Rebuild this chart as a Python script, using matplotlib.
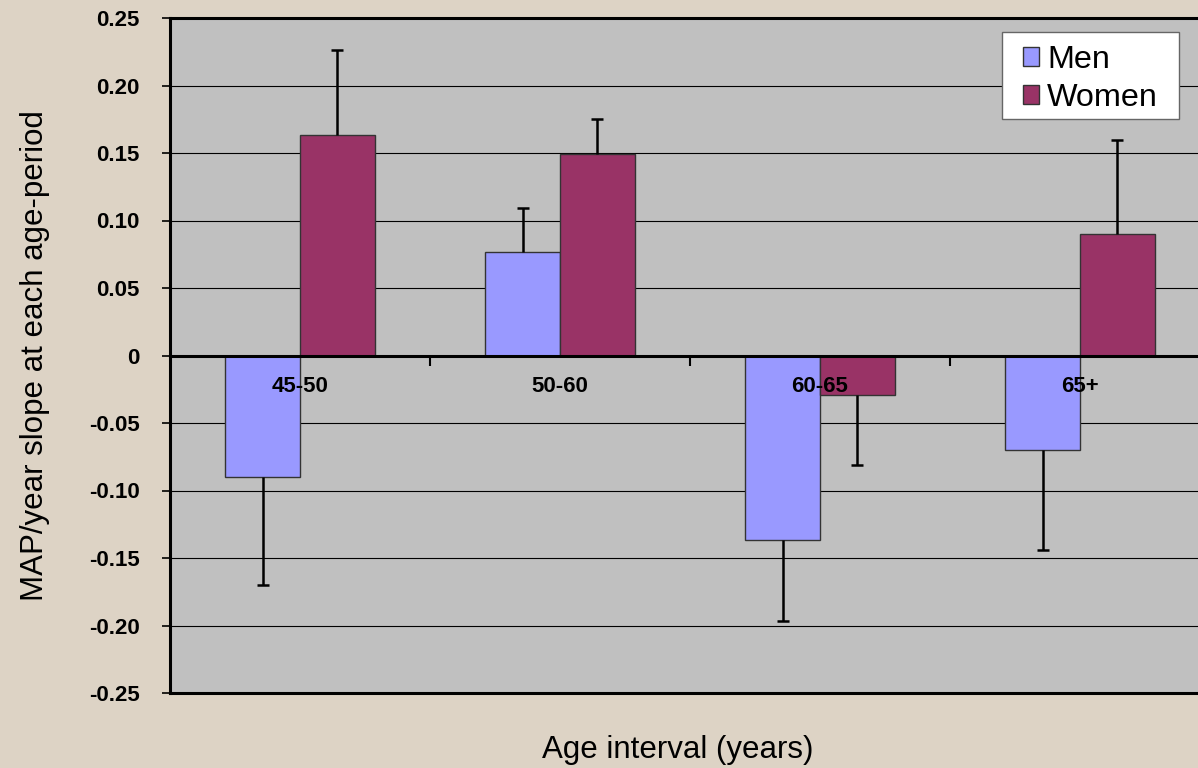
import matplotlib
matplotlib.use('Agg')
import matplotlib.pyplot as plt
from matplotlib.patches import Rectangle
import numpy as np

plt.rcParams['font.family'] = ['Liberation Sans', 'DejaVu Sans']

# data
categories = ['45-50', '50-60', '60-65', '65+']
men = [-0.090, 0.077, -0.137, -0.070]
women = [0.163, 0.149, -0.029, 0.090]
men_err = [0.080, 0.032, 0.060, 0.074]
women_err = [0.063, 0.026, 0.052, 0.070]
yticks = [0.25, 0.20, 0.15, 0.10, 0.05, 0, -0.05, -0.10, -0.15, -0.20, -0.25]
ytick_labels = ['0.25', '0.20', '0.15', '0.10', '0.05', '0',
                '-0.05', '-0.10', '-0.15', '-0.20', '-0.25']


def err_ends(vals, errs):
    # error bar only goes out on the side the bar points to
    return [v - e if v < 0 else v + e for v, e in zip(vals, errs)]


fig = plt.figure(figsize=(11.98, 7.68), dpi=100)
fig.patch.set_facecolor('#DDD3C5')
ax = fig.add_axes([170 / 1198, 1 - 693 / 768, 1040 / 1198, 675 / 768])
ax.set_facecolor('#C0C0C0')

x = np.arange(len(categories))
w = 0.288
ax.bar(x, men, width=-w, align='edge', color='#9999FF',
       edgecolor='#333333', linewidth=1, label='Men', zorder=3)
ax.bar(x, women, width=w, align='edge', color='#993366',
       edgecolor='#333333', linewidth=1, label='Women', zorder=3)

for xs, vals, errs in [(x - w / 2, men, men_err), (x + w / 2, women, women_err)]:
    ends = err_ends(vals, errs)
    ax.vlines(xs, vals, ends, color='black', linewidth=1.8, zorder=4)
    ax.plot(xs, ends, linestyle='none', marker='_', markersize=9,
            markeredgewidth=1.8, color='black', zorder=4)

ax.set_xlim(-0.5, 3.5)
ax.set_ylim(-0.25, 0.25)

# y axis
ax.set_yticks(yticks)
ax.set_yticklabels(ytick_labels, fontsize=16, fontweight='bold')
ax.tick_params(axis='y', direction='out', length=6, width=1.2, pad=16)
ax.yaxis.grid(True, color='black', linewidth=0.8, zorder=1)
ax.set_axisbelow(True)

# x axis sits on zero
ax.spines['bottom'].set_position(('data', 0))
ax.spines['bottom'].set_linewidth(2.2)
ax.spines['bottom'].set_zorder(5)
ax.spines['left'].set_linewidth(2.2)
ax.spines['top'].set_linewidth(2.2)
ax.spines['right'].set_visible(False)
ax.axhline(-0.25, color='black', linewidth=2.2, clip_on=False, zorder=5)

ax.set_xticks(x)
ax.set_xticklabels([])
ax.tick_params(axis='x', which='major', length=0)
ax.set_xticks([0.5, 1.5, 2.5], minor=True)
ax.tick_params(axis='x', which='minor', direction='out', length=7, width=1.5)
for xi, lab in zip(x, categories):
    ax.text(xi, -0.0228, lab, fontsize=16, fontweight='bold',
            ha='center', va='center', zorder=10)

ax.set_ylabel('MAP/year slope at each age-period', fontsize=22.5, labelpad=28)
fig.text(678 / 1198, 1 - 750 / 768, 'Age interval (years)', fontsize=22.5,
         ha='center', va='center')

# legend box drawn separately so the padding matches
box = Rectangle((1002 / 1198, 1 - 119 / 768), 177 / 1198, 87 / 768,
                transform=fig.transFigure, facecolor='white',
                edgecolor='#666666', linewidth=1, zorder=6)
fig.add_artist(box)
leg = ax.legend(loc='upper left', bbox_to_anchor=(1023 / 1198, 1 - 45 / 768),
                bbox_transform=fig.transFigure, borderaxespad=0, borderpad=0,
                fontsize=23.3, frameon=False, handlelength=0.5,
                handleheight=0.5, handletextpad=0.25, labelspacing=0.25)
leg.set_zorder(7)
fig.add_artist(leg)

fig.savefig('out.png', dpi=100, facecolor=fig.get_facecolor())
